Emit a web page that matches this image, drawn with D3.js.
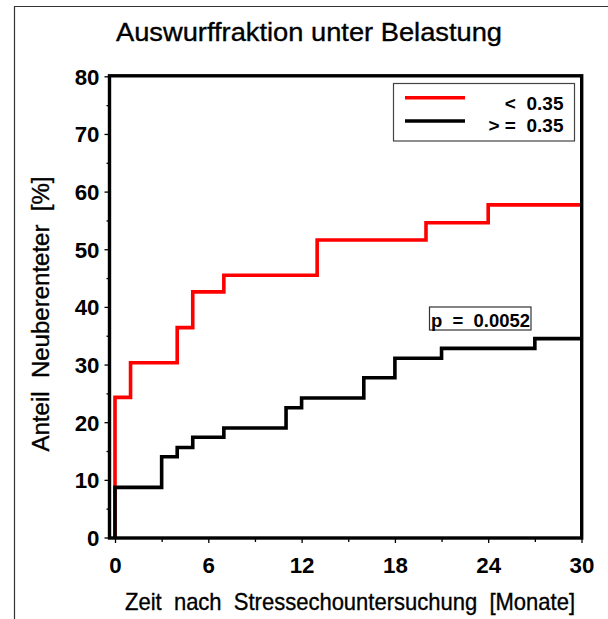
<!DOCTYPE html>
<html>
<head>
<meta charset="utf-8">
<script src="https://cdn.jsdelivr.net/npm/d3@7"></script>
<style>
  html, body { margin: 0; padding: 0; background: #fff; }
  svg { display: block; }
  text { font-family: "Liberation Sans", Arial, Helvetica, sans-serif; fill: #000; white-space: pre; }
</style>
</head>
<body>
<script>
// ---- data ----
const chartTitle = "Auswurffraktion unter Belastung";
const xTitle = "Zeit  nach  Stressechountersuchung  [Monate]";
const yTitle = "Anteil  Neuberenteter  [%]";
const seriesNames = ["<  0.35", "> =  0.35"];
const seriesColors = ["#ff0000", "#000000"];
// series 1: ejection fraction < 0.35 (months, cumulative %)
const lowTimes  = [0, 0, 1, 4, 5, 7, 13, 20, 24, 30];
const lowValues = [0, 24.3, 30.3, 36.4, 42.6, 45.5, 51.6, 54.6, 57.7, 57.7];
// series 2: ejection fraction >= 0.35
const highTimes  = [0, 0, 3, 4, 5, 7, 11, 12, 16, 18, 21, 27, 30];
const highValues = [0, 8.7, 14.0, 15.6, 17.4, 19.0, 22.5, 24.2, 27.7, 31.1, 32.8, 34.5, 34.5];
const xTickValues = [0, 6, 12, 18, 24, 30];
const xMinorTicks = [3, 9, 15, 21, 27];
const yTickValues = [0, 10, 20, 30, 40, 50, 60, 70, 80];
const yMinorTicks = [5, 15, 25, 35, 45, 55, 65, 75];
const pText = "p  =  0.0052";

// ---- layout ----
const W = 608, H = 619;
const svg = d3.select("body").append("svg").attr("width", W).attr("height", H);

const x = d3.scaleLinear().domain([0, 30]).range([115, 581.5]);
const y = d3.scaleLinear().domain([0, 80]).range([537.5, 76.3]);
const frameL = 109.5, frameR = 581.7, frameT = 75.8, frameB = 538;

// outer page border (left & top)
svg.append("path")
  .attr("d", `M14.5,${H} L14.5,6.5 L${W},6.5`)
  .attr("fill", "none").attr("stroke", "#333").attr("stroke-width", 1.2);

// title
svg.append("text")
  .attr("x", 309).attr("y", 40.5)
  .attr("text-anchor", "middle")
  .attr("font-size", 25)
  .attr("stroke", "#000").attr("stroke-width", 0.35)
  .attr("textLength", 386).attr("lengthAdjust", "spacingAndGlyphs")
  .text(chartTitle);

// y axis ticks
const yAxisG = svg.append("g").attr("transform", `translate(${frameL},0)`);
yAxisG.call(d3.axisLeft(y).tickValues(yTickValues).tickSize(5).tickSizeOuter(0).tickFormat(""));
yAxisG.call(g => g.select(".domain").remove());
const yMinorG = svg.append("g").attr("transform", `translate(${frameL},0)`);
yMinorG.call(d3.axisLeft(y).tickValues(yMinorTicks).tickSize(3).tickSizeOuter(0).tickFormat(""));
yMinorG.call(g => g.select(".domain").remove());
svg.selectAll(".tick line").attr("stroke", "#000").attr("stroke-width", 1.3);

// y tick labels
svg.append("g").selectAll("text").data(yTickValues).join("text")
  .attr("x", 99.5).attr("y", d => y(d) + 8.5)
  .attr("text-anchor", "end")
  .attr("font-size", 21.5).attr("font-weight", "bold")
  .attr("textLength", d => String(d).length * 12.4)
  .attr("lengthAdjust", "spacingAndGlyphs")
  .text(d => d);

// x axis ticks
const xAxisG = svg.append("g").attr("transform", `translate(0,${frameB})`);
xAxisG.call(d3.axisBottom(x).tickValues(xTickValues).tickSize(5).tickSizeOuter(0).tickFormat(""));
xAxisG.call(g => g.select(".domain").remove());
const xMinorG = svg.append("g").attr("transform", `translate(0,${frameB})`);
xMinorG.call(d3.axisBottom(x).tickValues(xMinorTicks).tickSize(4).tickSizeOuter(0).tickFormat(""));
xMinorG.call(g => g.select(".domain").remove());
svg.selectAll(".tick line").attr("stroke", "#000").attr("stroke-width", 1.3);

// x tick labels
svg.append("g").selectAll("text").data(xTickValues).join("text")
  .attr("x", d => x(d) + 0.5).attr("y", 573)
  .attr("text-anchor", "middle")
  .attr("font-size", 21.5).attr("font-weight", "bold")
  .attr("textLength", d => String(d).length * 12.4)
  .attr("lengthAdjust", "spacingAndGlyphs")
  .text(d => d);

// axis titles
svg.append("text")
  .attr("x", 350).attr("y", 609.5)
  .attr("text-anchor", "middle")
  .attr("font-size", 24)
  .attr("stroke", "#000").attr("stroke-width", 0.35)
  .attr("textLength", 450).attr("lengthAdjust", "spacingAndGlyphs")
  .text(xTitle);

svg.append("text")
  .attr("transform", "translate(48.5,314) rotate(-90)")
  .attr("text-anchor", "middle")
  .attr("font-size", 23)
  .attr("stroke", "#000").attr("stroke-width", 0.35)
  .attr("textLength", 275).attr("lengthAdjust", "spacingAndGlyphs")
  .text(yTitle);

// step curves
const line = d3.line().x(d => x(d[0])).y(d => y(d[1])).curve(d3.curveStepAfter);
const series = [
  { times: lowTimes, values: lowValues, color: seriesColors[0] },
  { times: highTimes, values: highValues, color: seriesColors[1] }
];
svg.append("g").selectAll("path").data(series).join("path")
  .attr("d", s => line(s.times.map((t, i) => [t, s.values[i]])))
  .attr("fill", "none")
  .attr("stroke", s => s.color)
  .attr("stroke-width", 3.6)
  .attr("stroke-linejoin", "miter")
  .attr("stroke-linecap", "butt");

// plot frame
svg.append("rect")
  .attr("x", frameL).attr("y", frameT)
  .attr("width", frameR - frameL).attr("height", frameB - frameT)
  .attr("fill", "none").attr("stroke", "#000").attr("stroke-width", 3.4);

// legend
const leg = svg.append("g");
leg.append("rect")
  .attr("x", 393.5).attr("y", 83.5).attr("width", 181).attr("height", 57.5)
  .attr("fill", "#fff").attr("stroke", "#444").attr("stroke-width", 1.2);
const legRows = [97.7, 121];
const legText = [109.5, 132];
seriesNames.forEach((name, i) => {
  leg.append("line")
    .attr("x1", 405).attr("x2", 465)
    .attr("y1", legRows[i]).attr("y2", legRows[i])
    .attr("stroke", seriesColors[i]).attr("stroke-width", 3.6);
  leg.append("text")
    .attr("x", 563.5).attr("y", legText[i])
    .attr("text-anchor", "end")
    .attr("font-size", 19).attr("font-weight", "bold")
    .text(name);
});

// p-value box
svg.append("rect")
  .attr("x", 429.5).attr("y", 307).attr("width", 101.5).attr("height", 23)
  .attr("fill", "#fff").attr("stroke", "#333").attr("stroke-width", 1.2);
svg.append("text")
  .attr("x", 431).attr("y", 326.5)
  .attr("font-size", 19).attr("font-weight", "bold")
  .attr("textLength", 99).attr("lengthAdjust", "spacingAndGlyphs")
  .text(pText);
</script>
</body>
</html>
